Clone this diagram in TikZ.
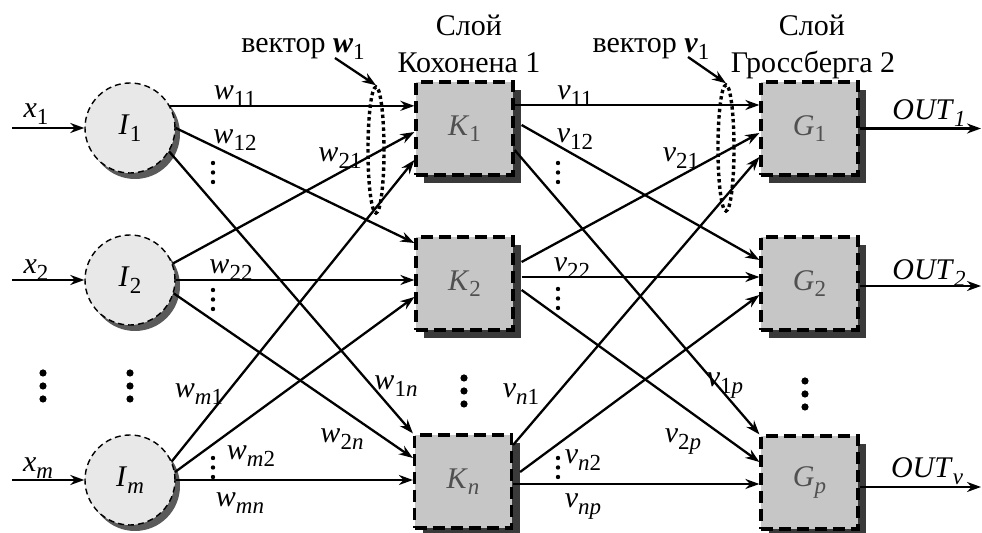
\documentclass[tikz,border=0pt]{standalone}
\usepackage{fontspec}
\setmainfont{Liberation Serif}
\usetikzlibrary{arrows.meta,shadows,shapes.geometric}
\definecolor{cfill}{HTML}{E8E8E8}
\definecolor{csh}{HTML}{5A5A5A}
\definecolor{bfill}{HTML}{C6C6C6}
\definecolor{bsh}{HTML}{3A3A3A}
\definecolor{btext}{HTML}{505050}
\newcommand{\lowsub}[1]{\raisebox{-0.22em}{\fontsize{11.5}{11.5}\selectfont #1}}
\newcommand{\sub}[2]{\textit{#1}\lowsub{#2}}
\begin{document}
\begin{tikzpicture}[x=0.5pt,y=-0.5pt,
  font=\fontsize{15}{18.5}\selectfont,
  inode/.style={circle, draw, dash pattern=on 3pt off 2pt, line width=0.7pt,
    fill=cfill, minimum size=45pt, inner sep=0pt,
    general shadow={shadow xshift=2.5pt, shadow yshift=-3pt, fill=csh}},
  kbox/.style={rectangle, draw, line width=1.6pt, dash pattern=on 6pt off 3pt,
    fill=bfill, minimum width=48.5pt, minimum height=46.5pt, inner sep=0pt,
    text=btext,
    general shadow={shadow xshift=4pt, shadow yshift=-4pt, fill=bsh}},
  conn/.style={line width=1.15pt, -{Stealth[length=7pt,width=5pt]}},
  lab/.style={anchor=base, inner sep=0pt},
  vell/.style={ellipse, draw, line width=1.7pt, dash pattern=on 1.7pt off 1.5pt,
    minimum width=8pt, minimum height=63pt, inner sep=0pt},
  bigdot/.style={fill=black},
]
\useasboundingbox (0,0) rectangle (982,533);

% nodes
\node[inode] (I1) at (130,128) {\sub{I}{1}};
\node[inode] (I2) at (130,280) {\sub{I}{2}};
\node[inode] (Im) at (130,480) {\sub{I}{\textit{m}}};
\node[kbox] (K1) at (464.5,128.5) {\sub{K}{1}};
\node[kbox] (K2) at (464.5,283.5) {\sub{K}{2}};
\node[kbox] (Kn) at (463,481.5) {\sub{K}{\textit{n}}};
\node[kbox] (G1) at (809.5,128.5) {\sub{G}{1}};
\node[kbox] (G2) at (809.5,283.5) {\sub{G}{2}};
\node[kbox] (Gp) at (809.5,482.5) {\sub{G}{\textit{p}}};

\coordinate (xin) at (12,0);
\coordinate (oR) at (981,0);

% inputs
\draw[conn] (I1.west -| xin) -- (I1.west);
\draw[conn] (I2.west -| xin) -- (I2.west);
\draw[conn] (Im.west -| xin) -- (Im.west);

% I -> K
\draw[conn] (I1.29) -- (I1.29 -| K1.west);
\draw[conn] (I1.0) -- ([yshift=20.25pt]K2.west);
\draw[conn] (I1.-31) -- (Kn.north west);
\draw[conn] (I2.21) -- ([yshift=-1.75pt]K1.west);
\draw[conn] (I2.0) -- (I2.0 -| K2.west);
\draw[conn] (I2.-17) -- ([yshift=11.75pt]Kn.west);
\draw[conn] (Im.24) -- ([yshift=-15.75pt]K1.west);
\draw[conn] (Im.10) -- ([yshift=-6.75pt]K2.west);
\draw[conn] (Im.0) -- (Im.0 -| Kn.west);

% K -> G
\coordinate (k1a) at ([yshift=11.75pt]K1.east);
\draw[conn] (k1a) -- (k1a -| G1.west);
\draw[conn] ([xshift=3.5pt,yshift=1.75pt]K1.east) -- ([yshift=11.75pt]G2.west);
\draw[conn] ([yshift=-10.75pt]K1.east) -- (Gp.north west);
\draw[conn] ([xshift=3.5pt,yshift=10.75pt]K2.east) -- ([yshift=-2.25pt]G1.west);
\coordinate (k2b) at ([xshift=3.5pt,yshift=3.25pt]K2.east);
\draw[conn] (k2b) -- (k2b -| G2.west);
\draw[conn] ([xshift=3.5pt,yshift=-3.25pt]K2.east) -- ([yshift=10.25pt]Gp.west);
\draw[conn] ([yshift=18.25pt]Kn.east) -- ([yshift=-14.25pt]G1.west);
\draw[conn] ([xshift=3.5pt,yshift=4.75pt]Kn.east) -- ([yshift=-5.75pt]G2.west);
\coordinate (knc) at ([yshift=-1.25pt]Kn.east);
\draw[conn] (knc) -- (knc -| Gp.west);

% outputs
\draw[conn] (G1.east) -- (G1.east -| oR);
\coordinate (g2o) at ([yshift=-1.25pt]G2.east);
\draw[conn] (g2o) -- (g2o -| oR);
\coordinate (gpo) at ([yshift=-2.25pt]Gp.east);
\draw[conn] (gpo) -- (gpo -| oR);

% vector ellipses and labels
\node[vell] (e1) at (376,150) {};
\node[vell] (e2) at (726,148) {};
\node[lab] (lw) at (303,53) {вектор \textbf{\textit{w}}\lowsub{1}};
\node[lab] (lv) at (651,53) {вектор \textbf{\textit{v}}\lowsub{1}};
\coordinate (aw) at (335,58);
\coordinate (av) at (688,57);
\draw[conn] (aw) -- (e1.north);
\draw[conn] (av) -- (e2.north);

% layer titles
\node[lab] (tK1) at (469,36) {Слой};
\node[lab] (tK2) at (469,73) {Кохонена 1};
\node[lab] (tG1) at (812,36) {Слой};
\node[lab] (tG2) at (813,73) {Гроссберга 2};

% input labels
\node[lab] (lx1) at (36,118) {\sub{x}{1}};
\node[lab] (lx2) at (36,274) {\sub{x}{2}};
\node[lab] (lxm) at (38,472) {\sub{x}{\textit{m}}};

% weight labels
\node[lab] (lw11) at (235,100) {\sub{w}{11}};
\node[lab] (lw12) at (235,144) {\sub{w}{12}};
\node[lab] (lw21) at (340,162) {\sub{w}{21}};
\node[lab] (lw22) at (231,274) {\sub{w}{22}};
\node[lab] (lwm1) at (199,398) {\sub{w}{\textit{m}1}};
\node[lab] (lwm2) at (251,460) {\sub{w}{\textit{m}2}};
\node[lab] (lwmn) at (240,507) {\sub{w}{\textit{mn}}};
\node[lab] (lw1n) at (396,390) {\sub{w}{1\textit{n}}};
\node[lab] (lw2n) at (342,443) {\sub{w}{2\textit{n}}};
\node[lab] (lv11) at (575,100) {\sub{v}{11}};
\node[lab] (lv12) at (575,143) {\sub{v}{12}};
\node[lab] (lv21) at (681,162) {\sub{v}{21}};
\node[lab] (lv22) at (572,272) {\sub{v}{22}};
\node[lab] (lvn1) at (521,398) {\sub{v}{\textit{n}1}};
\node[lab] (lvn2) at (583,464) {\sub{v}{\textit{n}2}};
\node[lab] (lvnp) at (583,508) {\sub{v}{\textit{np}}};
\node[lab] (lv1p) at (725,387) {\sub{v}{1\textit{p}}};
\node[lab] (lv2p) at (683,443) {\sub{v}{2\textit{p}}};

% output labels
\node[lab] (lo1) at (929,120) {\sub{OUT}{\textit{1}}};
\node[lab] (lo2) at (929,280) {\sub{OUT}{\textit{2}}};
\node[lab] (lov) at (927,478) {\sub{OUT}{\textit{v}}};

% small vertical dots
\foreach \x/\y in {213/163, 213/290, 213/458, 558/163, 558/289, 558/458}
  \foreach \d in {0,9.5,19}
    \fill (\x,\y+\d) circle[radius=1.1pt];

% big dots
\foreach \x/\y in {43/373, 130/373, 464/378, 805/381}
  \foreach \d in {0,13,26}
    \fill[bigdot] (\x,\y+\d) circle[radius=1.8pt];
\end{tikzpicture}
\end{document}
